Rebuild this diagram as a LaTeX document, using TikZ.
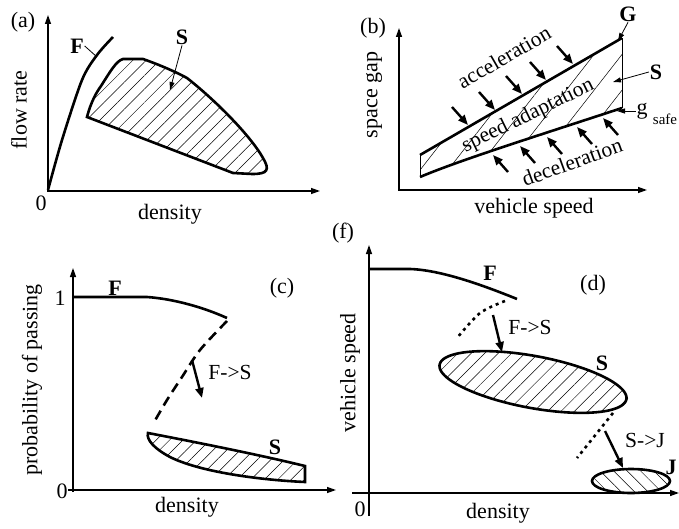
\documentclass[tikz,border=0pt]{standalone}
\usepackage{fontspec}
\setmainfont{Liberation Serif}
\usetikzlibrary{arrows.meta,patterns.meta}
\begin{document}
\begin{tikzpicture}[x=1pt,y=-1pt,
  every node/.style={inner sep=0pt,outer sep=1pt},
  txt/.style={font=\fontsize{22}{24}\selectfont},
  lab/.style={font=\fontsize{22}{24}\selectfont\bfseries},
  small/.style={font=\fontsize{21.5}{24}\selectfont},
  axis/.style={line width=1.3pt,-{Triangle[length=9pt,width=6pt]}},
  curve/.style={line width=2.6pt},
  thinedge/.style={line width=0.8pt},
  hatch/.style={pattern={Lines[angle=45,distance=9.5pt,line width=0.5pt]}},
  hatchb/.style={pattern={Lines[angle=52,distance=22pt,line width=0.5pt]}},
  hatchnw/.style={pattern={Lines[angle=-45,distance=9.5pt,line width=0.5pt]}},
  leader/.style={line width=0.8pt,-{Triangle[length=8pt,width=5pt]}},
  leadline/.style={line width=0.8pt},
  push/.style={line width=2.4pt,-{Triangle[length=10pt,width=8pt]}},
  dashedcurve/.style={line width=2.6pt,dash pattern=on 10pt off 6pt},
  dottedcurve/.style={line width=2.6pt,dash pattern=on 3pt off 4pt}]
\useasboundingbox (0,0) rectangle (679,529);

% ---------------- panel (a)
\draw[axis] (48,192) -- (48,15);
\draw[axis] (47,191) -- (320,191);
\node[txt] (a-lab) at (23,22) {(a)};
\node[txt] (a-zero) at (41,203) {0};
\node[txt] (a-x) at (170,214) {density};
\node[txt,rotate=90] (a-y) at (19,110) {flow rate};
\draw[curve] plot[smooth] coordinates {(48,190) (62,140) (82,80) (97,55) (113,37)};
\draw[curve,hatch] (87,117) .. controls (91,102) and (96,93) .. (101,86)
   .. controls (110,72) and (116,61) .. (123,59) -- (143,59)
   .. controls (160,65) and (176,72) .. (187,78)
   .. controls (215,100) and (250,135) .. (263,158)
   .. controls (270,170) and (268,174) .. (252,174) -- (233,173) -- cycle;
\node[lab] (aF) at (77,46) {F};
\coordinate (aF-end) at (97,57);
\draw[leadline] (aF.east) -- (aF-end);
\node[lab] (aS) at (182,37) {S};
\coordinate (aS-end) at (170,90);
\draw[leader] (aS.south) -- (aS-end);

% ---------------- panel (b)
\draw[axis] (399,191) -- (399,28);
\draw[axis] (398,190) -- (647,190);
\node[txt] (b-lab) at (373,28) {(b)};
\node[txt] (b-x) at (534,208) {vehicle speed};
\node[txt,rotate=90] (b-y) at (374,95) {space gap};
\coordinate (bTL) at (420,155);
\coordinate (bTR) at (622,38);
\coordinate (bBL) at (420,177);
\coordinate (bBR) at (622,108);
\fill[hatchb] (bBL) -- (bTL) -- (bTR) -- (bBR) .. controls (540,135) and (460,160) .. (bBL) -- cycle;
\draw[thinedge] (bTL) -- (bBL);
\draw[thinedge] (bTR) -- (bBR);
\draw[curve] (bTL) -- (bTR);
\draw[curve] (bBL) .. controls (460,160) and (540,135) .. (bBR);
% acceleration arrows
\foreach \tx/\ty in {468/125,495/110,522/94,546/80,573/64}
  \draw[push] (\tx-16,\ty-18) -- (\tx,\ty);
% deceleration arrows
\foreach \tx/\ty in {493/155,520/146,547/137,577/127,603/118}
  \draw[push] (\tx+15,\ty+17) -- (\tx,\ty);
\node[small,rotate=30] (b-acc) at (504,57) {acceleration};
\node[small,rotate=26] (b-sa) at (528,116) {speed adaptation};
\node[small,rotate=20] (b-dec) at (572,162) {deceleration};
\node[lab] (bG) at (628,14) {G};
\coordinate (bG-end) at (618,41);
\draw[leader] (bG.south) -- (bG-end);
\node[lab] (bS) at (656,72) {S};
\coordinate (bS-end) at (613,82);
\draw[leader] (bS.west) -- (bS-end);
\node[txt] (bg) at (642,111) {g};
\node[font=\fontsize{15}{16}\selectfont] (bsafe) at (665,119) {safe};
\coordinate (bg-end) at (617,111);
\draw[leader] (bg.west) -- (bg-end);

% ---------------- panel (c)
\draw[axis] (73,492) -- (73,268);
\draw[axis] (68,490) -- (336,490);
\node[txt] (c-lab) at (282,288) {(c)};
\node[txt] (c-one) at (60,298) {1};
\node[txt] (c-zero) at (62,491) {0};
\node[txt] (c-x) at (187,507) {density};
\node[txt,rotate=90] (c-y) at (32,380) {probability of passing};
\draw[curve] (73,297) -- (147,297) .. controls (175,299) and (205,308) .. (227,318);
\draw[dashedcurve] plot[smooth] coordinates {(227,321) (200,350) (182,377) (167,400) (153,424)};
\draw[curve,hatch] (148,433) .. controls (200,443) and (260,455) .. (305,466)
   -- (305,482) .. controls (260,480) and (200,472) .. (170,457)
   .. controls (155,449) and (146,440) .. (148,433) -- cycle;
\node[lab] (cF) at (115,288) {F};
\node[lab] (cS) at (275,447) {S};
\coordinate (cA1) at (192,360);
\coordinate (cA2) at (202,398);
\draw[push] (cA1) -- (cA2);
\node[small] (cFS) at (230,372) {F->S};

% ---------------- panel (d)
\draw[axis] (369,516) -- (369,245);
\draw[axis] (352,493) -- (679,493);
\node[txt] (d-lab-f) at (343,233) {(f)};
\node[txt] (d-lab) at (593,285) {(d)};
\node[txt] (d-zero) at (360,509) {0};
\node[txt] (d-x) at (498,513) {density};
\node[txt,rotate=90] (d-y) at (350,373) {vehicle speed};
\draw[curve] (369,269) -- (410,269) .. controls (440,270) and (480,284) .. (517,299);
\draw[dottedcurve] plot[smooth] coordinates {(505,301) (480,313) (457,338)};
\draw[curve,hatch] plot[domain=0:360,samples=90] ({533+95*cos(\x)*cos(10.5)-26*sin(\x)*sin(10.5)},{382+95*cos(\x)*sin(10.5)+26*sin(\x)*cos(10.5)}) -- cycle;
\draw[dottedcurve] plot[smooth] coordinates {(613,413) (597,433) (577,458)};
\draw[curve,hatchnw] (631,481) ellipse [x radius=39pt, y radius=12pt];
\node[lab] (dF) at (490,273) {F};
\node[lab] (dS) at (602,363) {S};
\node[lab] (dJ) at (671,467) {J};
\coordinate (dA1) at (493,315);
\coordinate (dA2) at (502,352);
\draw[push] (dA1) -- (dA2);
\node[small] (dFS) at (530,327) {F->S};
\coordinate (dB1) at (605,431);
\coordinate (dB2) at (623,468);
\draw[push] (dB1) -- (dB2);
\node[small] (dSJ) at (645,440) {S->J};
\end{tikzpicture}
\end{document}
